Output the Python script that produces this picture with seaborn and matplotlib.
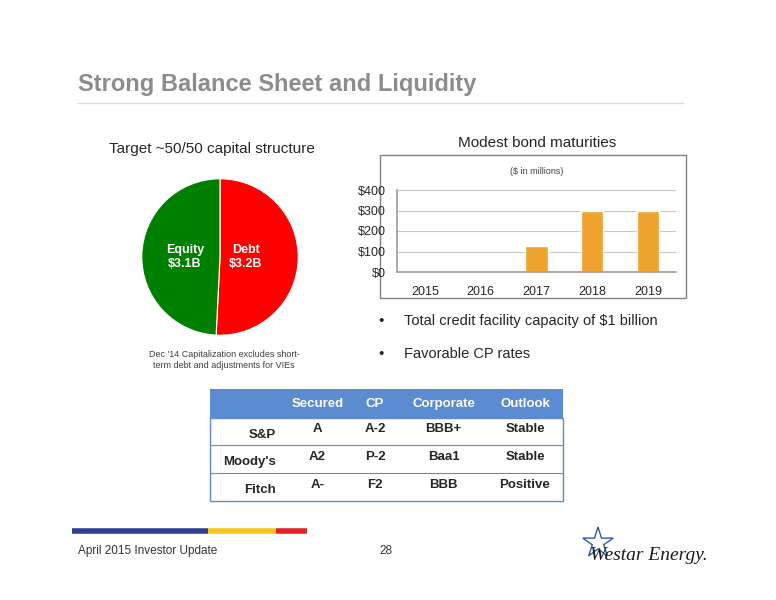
import numpy as np
import pandas as pd
import seaborn as sns
import matplotlib
matplotlib.use("Agg")
import matplotlib.pyplot as plt
from matplotlib.patches import Rectangle, Polygon

sns.set_theme(style="white")
plt.rcParams['font.family'] = ['Liberation Sans', 'DejaVu Sans']

# 数据
pie_labels = ['Debt\n$3.2B', 'Equity\n$3.1B']
pie_values = [3.2, 3.1]
pie_colors = ['#FF0000', '#008000']

years = ['2015', '2016', '2017', '2018', '2019']
maturities = [0, 0, 125, 300, 300]

col_heads = ['', 'Secured', 'CP', 'Corporate', 'Outlook']
agencies = ['S&P', "Moody's", 'Fitch']
ratings = [['A', 'A-2', 'BBB+', 'Stable'],
           ['A2', 'P-2', 'Baa1', 'Stable'],
           ['A-', 'F2', 'BBB', 'Positive']]

W, H = 776, 600
fig = plt.figure(figsize=(W / 100, H / 100), dpi=100)

def px_axes(x0, y0, x1, y1, **kw):
    return fig.add_axes([x0 / W, 1 - y1 / H, (x1 - x0) / W, (y1 - y0) / H], **kw)

# 背景层
bg = px_axes(0, 0, W, H)
bg.set_xlim(0, W)
bg.set_ylim(H, 0)
bg.axis('off')

bg.text(78, 85, 'Strong Balance Sheet and Liquidity', fontsize=17, fontweight='bold',
        color='#8C8C8C', va='center')
bg.plot([78, 683], [103, 103], color='#D9D9D9', lw=1)

bg.text(212, 149, 'Target ~50/50 capital structure', fontsize=11, ha='center', va='center')
bg.text(537, 143, 'Modest bond maturities', fontsize=11, ha='center', va='center')
bg.text(224, 360, "Dec '14 Capitalization excludes short-\nterm debt and adjustments for VIEs",
        fontsize=6.5, ha='center', va='center', color='#404040', linespacing=1.2)

bg.add_patch(Rectangle((380, 155), 306, 143, fill=False, ec='#808080', lw=1))
bg.text(537, 171, '($ in millions)', fontsize=6.5, ha='center', va='center', color='#404040')

bg.text(378, 321, '•', fontsize=11, va='center')
bg.text(404, 321, 'Total credit facility capacity of $1 billion', fontsize=10.5, va='center')
bg.text(378, 354, '•', fontsize=11, va='center')
bg.text(404, 354, 'Favorable CP rates', fontsize=10.5, va='center')

# 评级表
col_x = [210, 285, 350, 400, 487, 563]
row_y = [389, 418, 445, 473, 501]
bg.add_patch(Rectangle((210, 389), 353, 29, color='#5B8BD0', lw=0))
for i, h in enumerate(col_heads):
    bg.text((col_x[i] + col_x[i + 1]) / 2, 404, h, color='white', fontsize=9.5,
            fontweight='bold', ha='center', va='center')
bg.add_patch(Rectangle((210, 418), 353, 83, fill=False, ec='#5B8BD0', lw=1))
for y in row_y[2:4]:
    bg.plot([210, 563], [y, y], color='#5B8BD0', lw=0.8)
for r, name in enumerate(agencies):
    yc = (row_y[r + 1] + row_y[r + 2]) / 2
    bg.text(276, yc + 3, name, fontsize=9.5, fontweight='bold', ha='right', va='center')
    for c, v in enumerate(ratings[r]):
        bg.text((col_x[c + 1] + col_x[c + 2]) / 2, yc - 2, v, fontsize=9.5,
                fontweight='bold', ha='center', va='center')

# 页脚
bg.plot([72, 208], [531, 531], color='#2E3F96', lw=4, solid_capstyle='butt')
bg.plot([208, 276], [531, 531], color='#F8C81C', lw=4, solid_capstyle='butt')
bg.plot([276, 307], [531, 531], color='#E3202A', lw=4, solid_capstyle='butt')
bg.text(78, 551, 'April 2015 Investor Update', fontsize=8.5, va='center', color='#333333')
bg.text(386, 551, '28', fontsize=8.5, ha='center', va='center', color='#333333')
bg.text(590, 555, 'Westar Energy.', fontsize=14, family='Liberation Serif', style='italic',
        va='center', color='#1A1A1A')
star = []
for k in range(10):
    a = np.pi / 2 + k * np.pi / 5
    r = 16 if k % 2 == 0 else 6
    star.append((598 + r * np.cos(a), 543 - r * np.sin(a)))
bg.add_patch(Polygon(star, fill=False, ec='#2E5AAC', lw=1))

# 饼图
ax_pie = px_axes(141, 178, 299, 336)
ax_pie.pie(pie_values, colors=pie_colors, startangle=90, counterclock=False,
           wedgeprops=dict(edgecolor='white', linewidth=0.8))
ax_pie.set_xlim(-1.01, 1.01)
ax_pie.set_ylim(-1.01, 1.01)
ax_pie.set_aspect('equal')
ax_pie.text(0.33, 0.0, pie_labels[0], color='white', fontsize=9, fontweight='bold',
            ha='center', va='center')
ax_pie.text(-0.45, 0.0, pie_labels[1], color='white', fontsize=9, fontweight='bold',
            ha='center', va='center')

# 柱状图
ax_bar = px_axes(397, 190, 676, 272)
df = pd.DataFrame({'year': years, 'value': maturities})
sns.barplot(data=df, x='year', y='value', color='#F0A22E', width=0.4, saturation=1, ax=ax_bar)
ax_bar.set_ylim(0, 400)
ax_bar.set_yticks([0, 100, 200, 300, 400])
ax_bar.set_yticklabels(['$0', '$100', '$200', '$300', '$400'], fontsize=9)
ax_bar.tick_params(axis='x', labelsize=9, pad=4)
ax_bar.tick_params(axis='y', pad=2)
ax_bar.set_xlabel('')
ax_bar.set_ylabel('')
ax_bar.grid(axis='y', color='#C8C8C8', lw=0.8)
ax_bar.set_axisbelow(True)
for s in ['top', 'right']:
    ax_bar.spines[s].set_visible(False)
ax_bar.spines['left'].set_color('#A0A0A0')
ax_bar.spines['bottom'].set_color('#A0A0A0')
ax_bar.set_facecolor('none')

fig.savefig('out.png', dpi=100)
